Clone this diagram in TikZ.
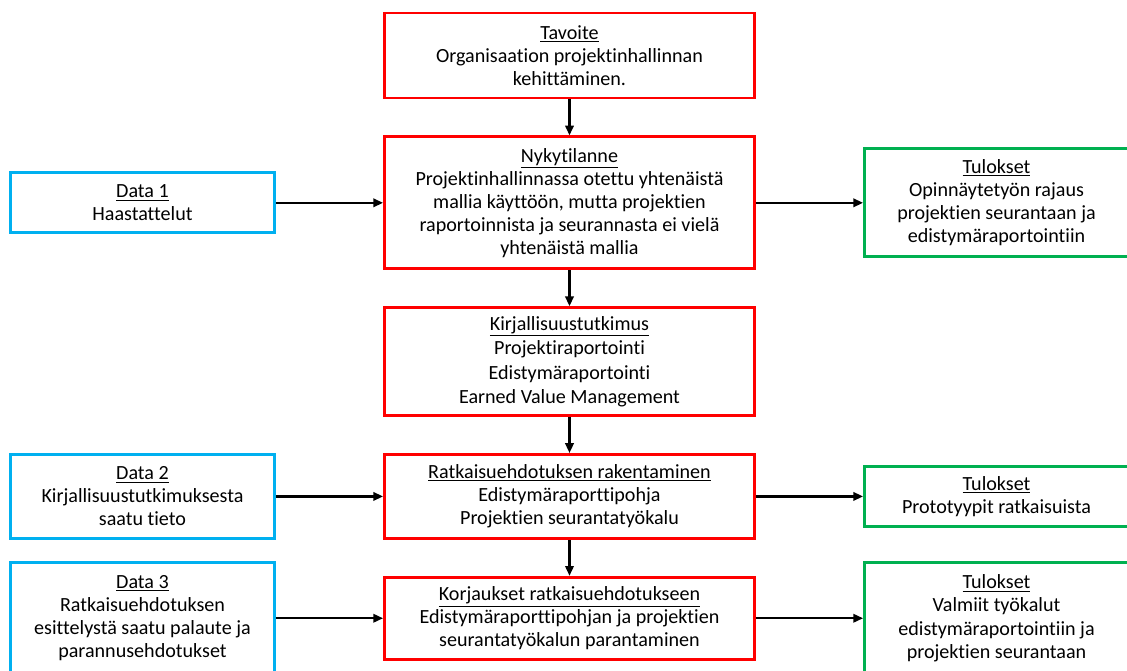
\documentclass[tikz,border=0pt]{standalone}
\usepackage{fontspec}
\setmainfont{Carlito}[Ligatures=NoCommon]
\usepackage{tikz}
\usetikzlibrary{arrows.meta, positioning}

\definecolor{boxred}{HTML}{FF0000}
\definecolor{boxblue}{HTML}{00B0F0}
\definecolor{boxgreen}{HTML}{00B050}

\begin{document}
\begin{tikzpicture}[
  node distance=0.9cm and 2.68cm,
  box/.style={draw, line width=2pt, align=center, inner sep=1pt, font=\fontsize{14.3}{16.4}\selectfont},
  mainbox/.style={box, draw=boxred, minimum width=9.25cm},
  databox/.style={box, draw=boxblue, minimum width=6.6cm},
  resbox/.style={box, draw=boxgreen, minimum width=6.6cm},
  arrow/.style={-{Triangle[length=7pt, width=6pt]}, line width=1.6pt}
]
  \useasboundingbox (-14.2375,1.3875) rectangle (13.9375,-15.3875);

  % keskimmäinen sarake
  \node[mainbox, minimum height=2.125cm] (tav) {\underline{Tavoite}\\ Organisaation projektinhallinnan\\ kehittäminen.};
  \node[mainbox, minimum height=3.3cm] (nyky) [below=of tav] {\underline{Nykytilanne}\\ Projektinhallinnassa otettu yhtenäistä\\ mallia käyttöön, mutta projektien\\ raportoinnista ja seurannasta ei vielä\\ yhtenäistä mallia};
  \node[mainbox, minimum height=2.7cm] (kirj) [below=of nyky] {\underline{Kirjallisuustutkimus}\\[1pt] Projektiraportointi\\[1pt] Edistymäraportointi\\[1pt] Earned Value Management};
  \node[mainbox, minimum height=2.1cm] (ratk) [below=of kirj] {\underline{Ratkaisuehdotuksen rakentaminen}\\ Edistymäraporttipohja\\ Projektien seurantatyökalu};
  \node[mainbox, minimum height=2.05cm] (korj) [below=of ratk] {\underline{Korjaukset ratkaisuehdotukseen}\\ Edistymäraporttipohjan ja projektien\\ seurantatyökalun parantaminen};

  % data vasemmalla
  \node[databox, minimum height=1.5cm] (data1) [left=of nyky] {\underline{Data 1}\\ Haastattelut};
  \node[databox, minimum height=2.1cm] (data2) [left=of ratk] {\underline{Data 2}\\ Kirjallisuustutkimuksesta\\ saatu tieto};
  \node[databox, minimum height=2.8cm] (data3) [left=of korj] {\underline{Data 3}\\ Ratkaisuehdotuksen\\ esittelystä saatu palaute ja\\ parannusehdotukset};

  % tulokset oikealla
  \node[resbox, minimum height=2.7cm] (tul1) [right=of nyky] {\underline{Tulokset}\\ Opinnäytetyön rajaus\\ projektien seurantaan ja\\ edistymäraportointiin};
  \node[resbox, minimum height=1.5cm] (tul2) [right=of ratk] {\underline{Tulokset}\\ Prototyypit ratkaisuista};
  \node[resbox, minimum height=2.8cm] (tul3) [right=of korj] {\underline{Tulokset}\\ Valmiit työkalut\\ edistymäraportointiin ja\\ projektien seurantaan};

  \draw[arrow] (tav)  -- (nyky);
  \draw[arrow] (nyky) -- (kirj);
  \draw[arrow] (kirj) -- (ratk);
  \draw[arrow] (ratk) -- (korj);

  \draw[arrow] (data1) -- (nyky);
  \draw[arrow] (data2) -- (ratk);
  \draw[arrow] (data3) -- (korj);
  \draw[arrow] (nyky) -- (tul1);
  \draw[arrow] (ratk) -- (tul2);
  \draw[arrow] (korj) -- (tul3);
\end{tikzpicture}
\end{document}
